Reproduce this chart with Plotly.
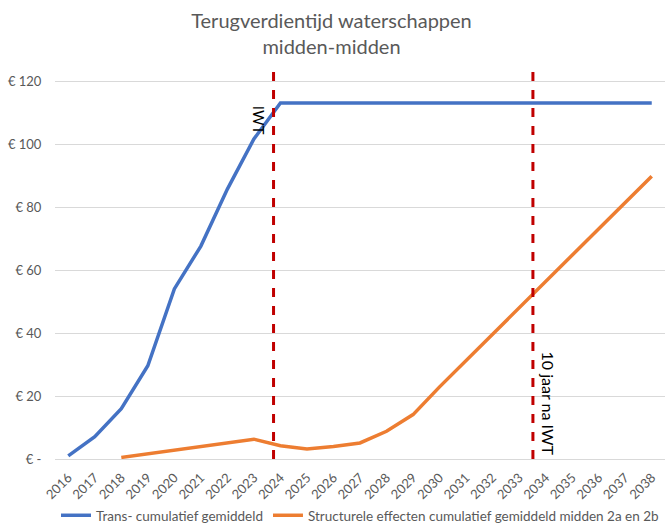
import plotly.graph_objects as go

years = [str(y) for y in range(2016, 2039)]
trans_values = [1.0, 7.1, 16.0, 29.6, 54.0, 67.6, 85.7, 101.6, 113.0,
                113.0, 113.0, 113.0, 113.0, 113.0, 113.0, 113.0, 113.0,
                113.0, 113.0, 113.0, 113.0, 113.0, 113.0]
struct_values = [None, None, 0.5, 1.7, 2.8, 4.0, 5.1, 6.3, 4.2, 3.2, 4.0,
                 5.1, 8.8, 14.1, 22.9, 31.3, 39.6, 48.0, 56.4, 64.7, 73.1,
                 81.5, 89.8]
y_tickvals = [0, 20, 40, 60, 80, 100, 120]
y_ticktext = ["€ -", "€ 20", "€ 40", "€ 60", "€ 80", "€ 100", "€ 120"]
marker_lines = [7.74, 17.52]  # category-index positions of the dashed markers
marker_texts = ["IWT", "10 jaar na IWT"]

FONT = "Lato, Open Sans, sans-serif"
GREY = "#595959"

fig = go.Figure()
fig.add_trace(go.Scatter(x=years, y=trans_values, mode="lines",
                         name="Trans- cumulatief gemiddeld",
                         line=dict(color="#4472C4", width=3.5)))
fig.add_trace(go.Scatter(x=years, y=struct_values, mode="lines",
                         name="Structurele effecten cumulatief gemiddeld midden 2a en 2b",
                         line=dict(color="#ED7D31", width=3.5)))

for xv in marker_lines:
    fig.add_shape(type="line", xref="x", yref="paper", x0=xv, x1=xv, y0=0, y1=1,
                  line=dict(color="#C00000", width=3, dash="dash"), layer="above")

fig.add_annotation(x=7.18, y=107.5, xref="x", yref="y", text=marker_texts[0],
                   textangle=90, showarrow=False,
                   font=dict(family=FONT, size=15, color="#000000"))
fig.add_annotation(x=18.1, y=17.5, xref="x", yref="y", text=marker_texts[1],
                   textangle=90, showarrow=False,
                   font=dict(family=FONT, size=16, color="#000000"))

fig.update_layout(
    width=667, height=531,
    margin=dict(l=55, r=2, t=70, b=72, autoexpand=False),
    paper_bgcolor="white", plot_bgcolor="white",
    title=dict(text="Terugverdientijd waterschappen<br>midden-midden",
               x=0.497, xanchor="center", y=0.948, yanchor="top",
               font=dict(family=FONT, size=20, color=GREY)),
    font=dict(family=FONT, color=GREY),
    showlegend=True,
    legend=dict(orientation="h", x=0.5, xanchor="center",
                yref="container", y=0.0, yanchor="bottom",
                font=dict(family=FONT, size=13.5, color=GREY),
                itemwidth=30),
    xaxis=dict(type="category", tickangle=-45, showgrid=False, automargin=False,
               tickfont=dict(family=FONT, size=13, color=GREY),
               showline=False, ticks="outside", ticklen=5, tickcolor="white",
               range=[-0.5, 22.5]),
    yaxis=dict(range=[0, 123.5], tickvals=y_tickvals, ticktext=y_ticktext,
               automargin=False,
               showgrid=True, gridcolor="#D9D9D9", gridwidth=1,
               zeroline=True, zerolinecolor="#D9D9D9", zerolinewidth=1,
               tickfont=dict(family=FONT, size=13, color=GREY),
               ticks="outside", ticklen=10, tickcolor="white"),
)

fig.write_html("out.html", config={"displayModeBar": False},
               post_script="document.body.style.margin='0';document.body.style.overflow='hidden';")
